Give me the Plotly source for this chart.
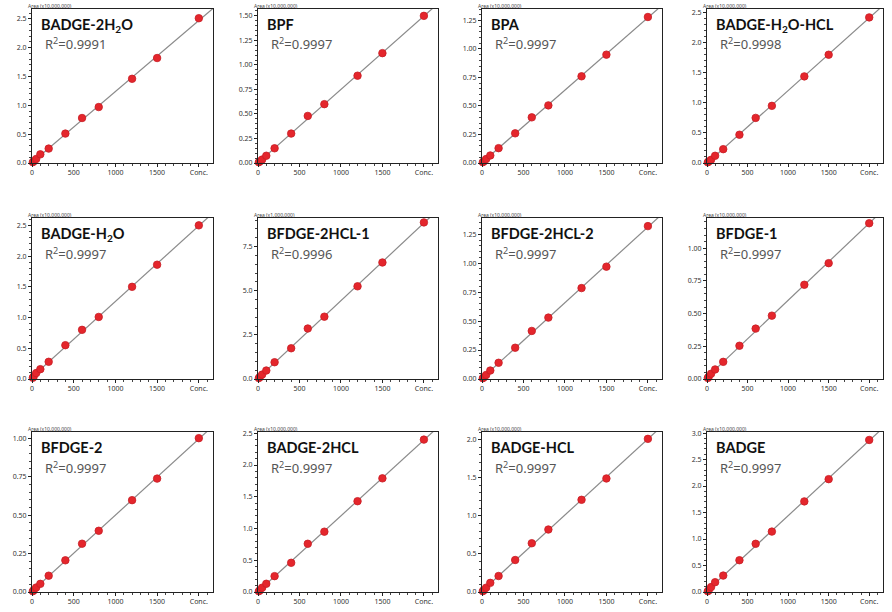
import numpy as np
import plotly.graph_objects as go
from plotly.subplots import make_subplots

conc = [10, 20, 50, 100, 200, 400, 600, 800, 1200, 1500, 2000]

names = ["BADGE-2H<sub>2</sub>O", "BPF", "BPA", "BADGE-H<sub>2</sub>O-HCL",
         "BADGE-H<sub>2</sub>O", "BFDGE-2HCL-1", "BFDGE-2HCL-2", "BFDGE-1",
         "BFDGE-2", "BADGE-2HCL", "BADGE-HCL", "BADGE"]
r2 = ["0.9991", "0.9997", "0.9997", "0.9998", "0.9997", "0.9996",
      "0.9997", "0.9997", "0.9997", "0.9997", "0.9997", "0.9997"]
area_units = ["Area (x10,000,000)"] * 5 + ["Area (x1,000,000)"] + ["Area (x10,000,000)"] * 6

badge_2h2o = [0.015, 0.03, 0.07, 0.15, 0.25, 0.51, 0.78, 0.97, 1.46, 1.82, 2.51]
bpf = [0.008, 0.016, 0.035, 0.074, 0.15, 0.30, 0.48, 0.60, 0.89, 1.12, 1.50]
bpa = [0.007, 0.014, 0.035, 0.066, 0.13, 0.26, 0.40, 0.505, 0.76, 0.95, 1.28]
badge_h2o_hcl = [0.012, 0.025, 0.053, 0.12, 0.23, 0.47, 0.75, 0.95, 1.44, 1.80, 2.42]
badge_h2o = [0.02, 0.04, 0.096, 0.16, 0.28, 0.55, 0.80, 1.01, 1.50, 1.86, 2.50]
bfdge_2hcl_1 = [0.05, 0.1, 0.25, 0.48, 0.95, 1.74, 2.86, 3.53, 5.25, 6.60, 8.87]
bfdge_2hcl_2 = [0.007, 0.014, 0.035, 0.073, 0.14, 0.27, 0.415, 0.53, 0.785, 0.97, 1.32]
bfdge_1 = [0.008, 0.016, 0.04, 0.073, 0.131, 0.254, 0.385, 0.484, 0.72, 0.885, 1.19]
bfdge_2 = [0.005, 0.011, 0.029, 0.053, 0.106, 0.206, 0.314, 0.398, 0.597, 0.737, 1.00]
badge_2hcl = [0.012, 0.025, 0.068, 0.13, 0.25, 0.46, 0.76, 0.95, 1.43, 1.79, 2.40]
badge_hcl = [0.011, 0.022, 0.057, 0.12, 0.21, 0.42, 0.64, 0.82, 1.21, 1.49, 2.01]
badge = [0.015, 0.03, 0.093, 0.185, 0.31, 0.60, 0.91, 1.14, 1.71, 2.13, 2.87]

series = [badge_2h2o, bpf, bpa, badge_h2o_hcl, badge_h2o, bfdge_2hcl_1,
          bfdge_2hcl_2, bfdge_1, bfdge_2, badge_2hcl, badge_hcl, badge]

y_top = [2.67, 1.57, 1.35, 2.56, 2.62, 9.12, 1.39, 1.23, 1.04, 2.52, 2.10, 3.02]
y_dtick = [0.5, 0.25, 0.25, 0.5, 0.5, 2.5, 0.25, 0.25, 0.25, 0.5, 0.5, 0.5]
y_fmt = [".1f", ".2f", ".2f", ".1f", ".1f", ".1f", ".2f", ".2f", ".2f", ".1f", ".1f", ".1f"]

x_ticks = [0, 500, 1000, 1500, 2000]
x_ticktext = ["0", "500", "1000", "1500", "Conc."]
x_max = 2170

W, H = 892, 612
col_px = [(32, 213), (258, 438), (482, 662), (707, 883)]
row_px = [(9, 163), (218, 379), (432, 592)]

fig = make_subplots(rows=3, cols=4)

for i in range(12):
    r, c = divmod(i, 4)
    n = i + 1
    xs = conc
    ys = series[i]
    slope, intercept = np.polyfit(xs, ys, 1)
    lx = [0, x_max]
    ly = [intercept, slope * x_max + intercept]
    fig.add_trace(go.Scatter(x=lx, y=ly, mode="lines",
                             line=dict(color="#8a8a8a", width=1.2),
                             showlegend=False, hoverinfo="skip"),
                  row=r + 1, col=c + 1)
    fig.add_trace(go.Scatter(x=xs, y=ys, mode="markers",
                             marker=dict(color="#e4262c", size=7.5,
                                         line=dict(color="#c81d25", width=0.8)),
                             showlegend=False, cliponaxis=False),
                  row=r + 1, col=c + 1)
    x0, x1 = col_px[c]
    y0, y1 = row_px[r]
    xd = [x0 / W, x1 / W]
    yd = [1 - y1 / H, 1 - y0 / H]
    xa = "xaxis" if n == 1 else f"xaxis{n}"
    ya = "yaxis" if n == 1 else f"yaxis{n}"
    fig.layout[xa].update(
        domain=xd, range=[0, x_max], tickvals=x_ticks, ticktext=x_ticktext,
        automargin=False,
        showline=True, linecolor="#222", linewidth=1, mirror=True,
        ticks="outside", ticklen=3, tickcolor="#222",
        minor=dict(dtick=100, ticks="outside", ticklen=2, tickcolor="#444"),
        showgrid=False, zeroline=False,
        tickfont=dict(size=7, color="#333", family="Noto Sans"))
    fig.layout[ya].update(
        domain=yd, range=[0, y_top[i]], dtick=y_dtick[i], tick0=0,
        tickformat=y_fmt[i], automargin=False,
        showline=True, linecolor="#222", linewidth=1, mirror=True,
        ticks="outside", ticklen=3, tickcolor="#222",
        minor=dict(dtick=y_dtick[i] / 5, ticks="outside", ticklen=2, tickcolor="#444"),
        showgrid=False, zeroline=False,
        tickfont=dict(size=7, color="#333", family="Noto Sans"))
    xref_d = "x domain" if n == 1 else f"x{n} domain"
    yref_d = "y domain" if n == 1 else f"y{n} domain"
    fig.add_annotation(text=f"<b>{names[i]}</b>", xref=xref_d, yref=yref_d,
                       x=0.04, y=0.97, xanchor="left", yanchor="top",
                       showarrow=False,
                       font=dict(size=14.5, color="#111", family="Lato"))
    fig.add_annotation(text=f"R<sup>2</sup>=" + r2[i], xref=xref_d, yref=yref_d,
                       x=0.06, y=0.85, xanchor="left", yanchor="top",
                       showarrow=False,
                       font=dict(size=13, color="#555", family="Noto Sans"))
    fig.add_annotation(text=area_units[i], xref=xref_d, yref=yref_d,
                       x=-0.03, y=1.0, xanchor="left", yanchor="bottom",
                       yshift=-1, showarrow=False, borderpad=0,
                       font=dict(size=5, color="#444", family="Noto Sans"))

fig.update_layout(width=W, height=H, margin=dict(l=0, r=0, t=0, b=0),
                  paper_bgcolor="white", plot_bgcolor="white",
                  showlegend=False)

fig.write_html("out.html", config={"displayModeBar": False},
               post_script="document.body.style.margin='0';document.body.style.overflow='hidden';")
